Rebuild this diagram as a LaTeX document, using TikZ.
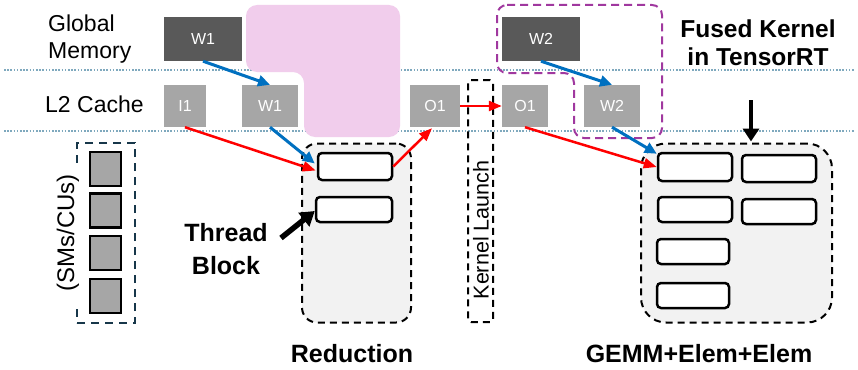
\documentclass[tikz,border=0pt]{standalone}
\usepackage{fontspec}
\setmainfont{Liberation Sans}
\usetikzlibrary{arrows.meta,calc}

\definecolor{darkblk}{HTML}{595959}
\definecolor{lightblk}{HTML}{A6A6A6}
\definecolor{pinkzone}{HTML}{F1CDEC}
\definecolor{fuseline}{HTML}{A0389F}
\definecolor{bluearrow}{HTML}{0070C0}
\definecolor{redarrow}{HTML}{FF0000}
\definecolor{levelline}{HTML}{7FA9BE}
\definecolor{kernelbg}{HTML}{F2F2F2}
\definecolor{smline}{HTML}{17374A}

\begin{document}
\begin{tikzpicture}[x=1pt,y=-1pt,
  memblk/.style={draw=none, inner sep=0pt, text=white, font=\fontsize{16}{18}\selectfont},
  globalblk/.style={memblk, fill=darkblk, minimum width=78pt, minimum height=44pt},
  cacheblk/.style={memblk, fill=lightblk, minimum height=42pt},
  kernelbox/.style={draw, fill=kernelbg, line width=2pt, dash pattern=on 7pt off 5pt, inner sep=0pt},
  tblock/.style={draw, fill=white, line width=2.5pt, rounded corners=4pt, inner sep=0pt},
  smcell/.style={draw, fill=lightblk, line width=2.5pt, inner sep=0pt, minimum width=31pt, minimum height=34pt},
  levelrule/.style={levelline, line width=1.3pt, dash pattern=on 1.6pt off 1.6pt},
  bluef/.style={bluearrow, line width=3pt, -{Triangle[length=12pt,width=11pt]}},
  redf/.style={redarrow, line width=2.5pt, -{Triangle[length=13pt,width=10pt]}},
  blackf/.style={black, line width=4pt, -{Triangle[length=13pt,width=16pt]}},
  lbl/.style={inner sep=0pt, font=\fontsize{23}{27}\selectfont},
  blbl/.style={inner sep=0pt, font=\fontsize{25}{33}\selectfont\bfseries},
]
\useasboundingbox (0,0) rectangle (858,369);
\fill[white] (0,0) rectangle (858,369);

% memory level separators
\draw[levelrule] (4,70) -- (854,70);
\draw[levelrule] (4,131) -- (854,131);

% reuse region of the first kernel
\fill[pinkzone, rounded corners=11pt]
  (246,5) -- (400,5) -- (400,137) -- (304,137) -- (304,72) -- (246,72) -- cycle;

% fused region of the second kernel
\draw[fuseline, line width=2pt, dash pattern=on 8pt off 5pt, rounded corners=10pt]
  (497,5) -- (662,5) -- (662,138) -- (574,138) -- (574,73) -- (497,73) -- cycle;

% level labels
\node[lbl, anchor=north west, align=left] (glabel) at (48,15) {Global\\Memory};
\node[lbl, anchor=base west] (l2label) at (45,112) {L2 Cache};

% data blocks in memory
\node[globalblk] (gw1) at (203,39) {W1};
\node[globalblk] (gw2) at (541,39) {W2};
\node[cacheblk, minimum width=42pt] (i1) at (185,106) {I1};
\node[cacheblk, minimum width=56pt] (lw1) at (270,106) {W1};
\node[cacheblk, minimum width=50pt] (o1a) at (435,106) {O1};
\node[cacheblk, minimum width=46pt] (o1b) at (525,106) {O1};
\node[cacheblk, minimum width=56pt] (lw2) at (612,106) {W2};

% streaming multiprocessors
\node[draw=smline, line width=2pt, dash pattern=on 8pt off 6pt, minimum width=58pt, minimum height=180pt, inner sep=0pt] (smbox) at (106,233) {};
\node[smcell] (sm1) at (105.5,169) {};
\node[smcell] (sm2) at (105.5,210.5) {};
\node[smcell] (sm3) at (105.5,253) {};
\node[smcell] (sm4) at (105.5,296) {};
\node[fill=white, rotate=90, inner xsep=11pt, inner ysep=3pt, font=\fontsize{24}{26}\selectfont] (smlabel) at (68,233) {(SMs/CUs)};

% reduction kernel
\node[kernelbox, rounded corners=15pt, minimum width=109pt, minimum height=179pt] (redk) at (356.5,233) {};
\node[tblock, minimum width=74pt, minimum height=27pt] (tb1) at (355,166.5) {};
\node[tblock, minimum width=76pt, minimum height=25pt] (tb2) at (354,209.5) {};
\node[blbl, anchor=base] (redlabel) at (352,362) {Reduction};
\node[blbl, anchor=north, align=center] (tblabel) at (226,223) {Thread\\Block};

% kernel launch gap
\node[draw, line width=2pt, dash pattern=on 7pt off 5pt, rounded corners=3pt, minimum width=25pt, minimum height=242pt, inner sep=0pt] (klbox) at (480.5,201) {};
\node[rotate=90, inner sep=0pt, font=\fontsize{21.5}{24}\selectfont] (kllabel) at (481,230) {Kernel Launch};

% fused GEMM kernel
\node[kernelbox, rounded corners=25pt, minimum width=191pt, minimum height=179pt] (gemmk) at (736.5,233) {};
\node[tblock, minimum width=74pt, minimum height=28pt] (g1) at (695,167) {};
\node[tblock, minimum width=74pt, minimum height=27pt] (g2) at (779,168.5) {};
\node[tblock, minimum width=74pt, minimum height=25pt] (g3) at (695,209.5) {};
\node[tblock, minimum width=74pt, minimum height=25pt] (g4) at (779,211.5) {};
\node[tblock, minimum width=72pt, minimum height=25pt] (g5) at (693,251.5) {};
\node[tblock, minimum width=72pt, minimum height=25pt] (g6) at (693,295.5) {};
\node[blbl, anchor=base, font=\fontsize{25}{28}\selectfont\bfseries] (gemmlabel) at (699,362) {GEMM+Elem+Elem};
\node[blbl, anchor=north, align=center, font=\fontsize{24.5}{28}\selectfont\bfseries] (fusedlabel) at (758,20) {Fused Kernel\\in TensorRT};

% data movement
\draw[bluef] (gw1.south) -- (lw1.north);
\draw[bluef] (gw2.south) -- (lw2.north);
\draw[redf] (i1.south) -- ($(tb1.west)+(-1,4)$);
\draw[bluef] (lw1.south) -- ($(tb1.west)+(-2,-3)$);
\draw[redf] (tb1.east) -- ($(o1a.south)+(-3,1)$);
\draw[redf] (o1a.east) -- (o1b.west);
\draw[redf] (o1b.south) -- (g1.west);
\draw[bluef] (lw2.south) -- ($(g1.north west)+(0,2)$);

% pointers
\coordinate (tbtail) at (281,238);
\draw[black, line width=5.5pt, -{Triangle[length=14pt,width=17pt]}] (tbtail) -- ($(tb2.west)+(0,1.5)$);
\coordinate (fusedtail) at (751,100);
\draw[blackf] (fusedtail) -- ($(gemmk.north)+(14.5,-1)$);
\end{tikzpicture}
\end{document}
